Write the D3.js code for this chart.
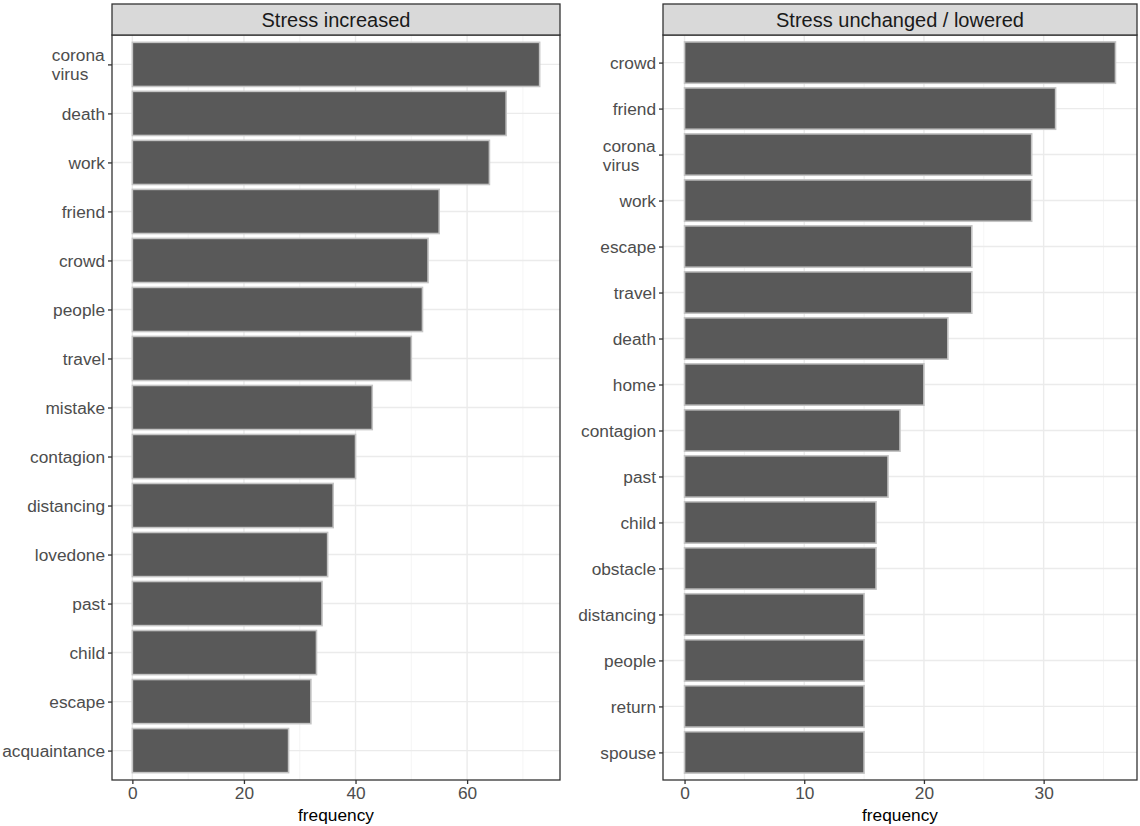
<!DOCTYPE html>
<html>
<head>
<meta charset="utf-8">
<script src="https://cdn.jsdelivr.net/npm/d3@7/dist/d3.min.js"></script>
<style>
  html, body { margin: 0; padding: 0; background: #fff; }
  svg { display: block; font-family: "Liberation Sans", Arial, sans-serif; }
</style>
</head>
<body>
<svg id="chart" width="1140" height="826"></svg>
<script>
// ---- data ----
const panelTitles = ["Stress increased", "Stress unchanged / lowered"];

const increasedWords = ["corona virus", "death", "work", "friend", "crowd", "people", "travel",
  "mistake", "contagion", "distancing", "lovedone", "past", "child", "escape", "acquaintance"];
const increasedFreq = [73, 67, 64, 55, 53, 52, 50, 43, 40, 36, 35, 34, 33, 32, 28];

const unchangedWords = ["crowd", "friend", "corona virus", "work", "escape", "travel", "death",
  "home", "contagion", "past", "child", "obstacle", "distancing", "people", "return", "spouse"];
const unchangedFreq = [36, 31, 29, 29, 24, 24, 22, 20, 18, 17, 16, 16, 15, 15, 15, 15];

const increasedTicks = [0, 20, 40, 60];
const increasedMinor = [10, 30, 50, 70];
const unchangedTicks = [0, 10, 20, 30];
const unchangedMinor = [5, 15, 25, 35];

const xTitle = "frequency";

// ---- drawing ----
const svg = d3.select("#chart");

const panels = [
  { title: panelTitles[0], words: increasedWords, vals: increasedFreq, ticks: increasedTicks, minor: increasedMinor, x0: 112, x1: 560 },
  { title: panelTitles[1], words: unchangedWords, vals: unchangedFreq, ticks: unchangedTicks, minor: unchangedMinor, x0: 663, x1: 1137 }
];

const stripTop = 4, panelTop = 35, panelBottom = 780;

panels.forEach(p => {
  const g = svg.append("g");
  const maxV = d3.max(p.vals);
  const pad = maxV * 0.05;
  const x = d3.scaleLinear().domain([-pad, maxV + pad]).range([p.x0, p.x1]);
  const y = d3.scalePoint().domain(p.words).range([panelTop, panelBottom]).padding(0.6);
  const step = y.step();

  // panel background
  g.append("rect").attr("x", p.x0).attr("y", panelTop).attr("width", p.x1 - p.x0)
    .attr("height", panelBottom - panelTop).attr("fill", "#fff");

  // minor gridlines
  g.selectAll(".minor").data(p.minor).enter().append("line")
    .attr("x1", d => x(d)).attr("x2", d => x(d))
    .attr("y1", panelTop).attr("y2", panelBottom)
    .attr("stroke", "#f2f2f2").attr("stroke-width", 0.8);

  // major gridlines
  g.selectAll(".majx").data(p.ticks).enter().append("line")
    .attr("x1", d => x(d)).attr("x2", d => x(d))
    .attr("y1", panelTop).attr("y2", panelBottom)
    .attr("stroke", "#ebebeb").attr("stroke-width", 1.4);
  g.selectAll(".majy").data(p.words).enter().append("line")
    .attr("x1", p.x0).attr("x2", p.x1)
    .attr("y1", d => y(d)).attr("y2", d => y(d))
    .attr("stroke", "#ebebeb").attr("stroke-width", 1.4);

  // bars
  const data = p.words.map((w, i) => ({ w, v: p.vals[i] }));
  g.selectAll(".bar").data(data).enter().append("rect")
    .attr("x", x(0))
    .attr("y", d => y(d.w) - step * 0.45)
    .attr("width", d => x(d.v) - x(0))
    .attr("height", step * 0.9)
    .attr("fill", "#595959")
    .attr("stroke", "#c4c4c4")
    .attr("stroke-width", 1.6);

  // panel border
  g.append("rect").attr("x", p.x0).attr("y", panelTop).attr("width", p.x1 - p.x0)
    .attr("height", panelBottom - panelTop).attr("fill", "none")
    .attr("stroke", "#333333").attr("stroke-width", 1.3);

  // strip
  g.append("rect").attr("x", p.x0).attr("y", stripTop).attr("width", p.x1 - p.x0)
    .attr("height", panelTop - stripTop).attr("fill", "#d9d9d9")
    .attr("stroke", "#333333").attr("stroke-width", 1.3);
  g.append("text").attr("x", (p.x0 + p.x1) / 2).attr("y", (stripTop + panelTop) / 2 + 7)
    .attr("text-anchor", "middle").attr("font-size", 20).attr("fill", "#1a1a1a")
    .text(p.title);

  // x axis
  const xAxis = d3.axisBottom(x).tickValues(p.ticks).tickSize(4).tickPadding(3).tickFormat(d3.format("d"));
  const gx = g.append("g").attr("transform", `translate(0,${panelBottom})`).call(xAxis);
  gx.select(".domain").remove();
  gx.selectAll(".tick line").attr("stroke", "#333333").attr("stroke-width", 1.3);
  gx.selectAll(".tick text").attr("font-size", 17.3).attr("fill", "#4d4d4d")
    .attr("font-family", "'Liberation Sans', Arial, sans-serif");

  // y axis
  const yAxis = d3.axisLeft(y).tickSize(4).tickPadding(3).tickFormat("");
  const gy = g.append("g").attr("transform", `translate(${p.x0},0)`).call(yAxis);
  gy.select(".domain").remove();
  gy.selectAll(".tick line").attr("stroke", "#333333").attr("stroke-width", 1.3);
  gy.selectAll(".tick").each(function (d) {
    const lines = d.split(" ");
    const t = d3.select(this).append("text")
      .attr("x", -7).attr("text-anchor", "end")
      .attr("font-size", 17.3).attr("fill", "#4d4d4d");
    const lh = 19;
    lines.forEach((ln, i) => {
      t.append("tspan").attr("x", -7)
        .attr("y", (i - (lines.length - 1) / 2) * lh + 6)
        .attr("text-anchor", lines.length > 1 ? "start" : "end")
        .text(ln);
    });
    if (lines.length > 1) {
      // left-align wrapped lines as in reference: anchor block at right edge of longest line
      const w = t.node().getBBox().width;
      t.selectAll("tspan").attr("x", -7 - w);
    }
  });

  // x title
  g.append("text").attr("x", (p.x0 + p.x1) / 2).attr("y", 821)
    .attr("text-anchor", "middle").attr("font-size", 17.3).attr("fill", "#000")
    .text(xTitle);
});
</script>
</body>
</html>
